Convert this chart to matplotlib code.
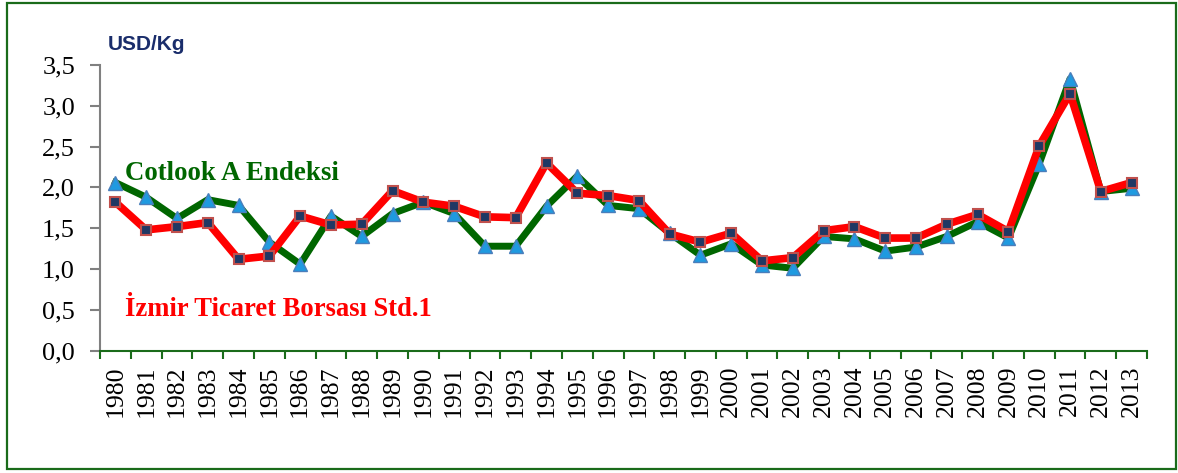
import matplotlib.pyplot as plt
from matplotlib.patches import Rectangle
from matplotlib.ticker import FixedLocator

years = list(range(1980, 2014))
cotlook = [2.06, 1.88, 1.62, 1.85, 1.78, 1.33, 1.06, 1.65, 1.40, 1.68,
           1.82, 1.68, 1.28, 1.28, 1.77, 2.14, 1.78, 1.74, 1.44, 1.17,
           1.31, 1.05, 1.01, 1.40, 1.37, 1.22, 1.27, 1.40, 1.58, 1.38,
           2.29, 3.33, 1.95, 1.99]
izmir = [1.82, 1.48, 1.52, 1.57, 1.12, 1.16, 1.65, 1.54, 1.55, 1.96,
         1.82, 1.77, 1.64, 1.63, 2.30, 1.93, 1.90, 1.84, 1.43, 1.33,
         1.44, 1.10, 1.14, 1.47, 1.52, 1.38, 1.38, 1.55, 1.67, 1.46,
         2.51, 3.15, 1.95, 2.06]
yticks = [0, 0.5, 1.0, 1.5, 2.0, 2.5, 3.0, 3.5]

W, H = 1178, 473
fig = plt.figure(figsize=(W / 100, H / 100), dpi=100)
ax = fig.add_axes([100 / W, 1 - 350.7 / H, 1047 / W, 285.7 / H])

# outer frame
fig.patches.append(Rectangle((7 / W, 1 - 469 / H), 1169 / W, 466 / H,
                             transform=fig.transFigure, fill=False,
                             edgecolor='#1a6b1a', linewidth=1.6))

x = list(range(len(years)))
ax.plot(x, cotlook, color='#006600', linewidth=5, marker='^', markersize=10,
        markerfacecolor='#1f9ae0', markeredgecolor='#4a7ebb', markeredgewidth=1, zorder=3)
ax.plot(x, izmir, color='#ff0000', linewidth=5.5, marker='s', markersize=7,
        markerfacecolor='#1f3864', markeredgecolor='#c0504d', markeredgewidth=1.5, zorder=4)

ax.set_xlim(-0.5, len(years) - 0.5)
ax.set_ylim(0, 3.5)
ax.set_yticks(yticks)
ax.set_yticklabels([f"{v:.1f}".replace('.', ',') for v in yticks],
                   family='Liberation Serif', fontsize=19)

# ticks at category borders, labels at category centres
ax.xaxis.set_major_locator(FixedLocator([i - 0.5 for i in range(len(years) + 1)]))
ax.set_xticklabels([])
ax.set_xticks(x, minor=True)
ax.set_xticklabels([str(y) for y in years], minor=True, rotation=90,
                   family='Liberation Serif', fontsize=18.5)
ax.tick_params(axis='x', which='major', length=6, width=1.5, color='#1a6b1a', direction='out')
ax.tick_params(axis='x', which='minor', length=0, pad=11)
ax.tick_params(axis='y', length=7, width=1.5, color='#808080', pad=11)

for s in ['top', 'right']:
    ax.spines[s].set_visible(False)
ax.spines['left'].set_color('#808080')
ax.spines['left'].set_linewidth(1.5)
ax.spines['bottom'].set_color('#1a6b1a')
ax.spines['bottom'].set_linewidth(1.5)

fig.text(108 / W, 1 - 45 / H, 'USD/Kg', family='Liberation Sans', fontweight='bold',
         fontsize=15, color='#1a2d6b', va='center', ha='left')
fig.text(125 / W, 1 - 173 / H, 'Cotlook A Endeksi', family='Liberation Serif',
         fontweight='bold', fontsize=19.4, color='#006600', va='center', ha='left')
fig.text(125 / W, 1 - 310 / H, 'İzmir Ticaret Borsası Std.1', family='Liberation Serif',
         fontweight='bold', fontsize=19.2, color='#ff0000', va='center', ha='left')

fig.savefig('out.png', dpi=100)
